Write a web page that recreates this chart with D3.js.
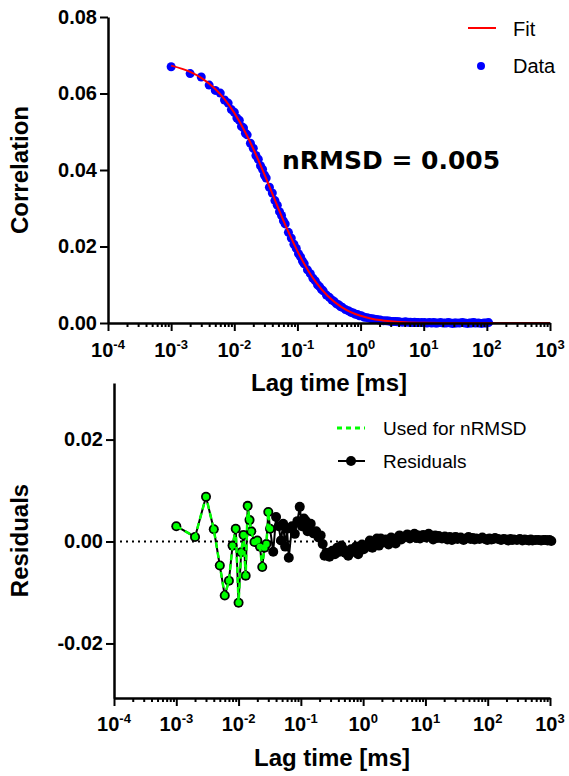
<!DOCTYPE html>
<html>
<head>
<meta charset="utf-8">
<script src="https://cdn.jsdelivr.net/npm/d3@7"></script>
<style>
  body { margin: 0; background: #fff; }
  svg { display: block; }
</style>
</head>
<body>
<svg width="569" height="776"></svg>
<script>
// correlator channel lag times, microseconds
var lagTimes = [
  1, 2, 3, 4, 5, 6, 7, 8, 9, 10, 11, 12, 13, 14, 15, 16,
  18, 20, 22, 24, 26, 28, 30, 32,
  36, 40, 44, 48, 52, 56, 60, 64,
  72, 80, 88, 96, 104, 112, 120, 128,
  144, 160, 176, 192, 208, 224, 240, 256,
  288, 320, 352, 384, 416, 448, 480, 512,
  576, 640, 704, 768, 832, 896, 960, 1024,
  1152, 1280, 1408, 1536, 1664, 1792, 1920, 2048,
  2304, 2560, 2816, 3072, 3328, 3584, 3840, 4096,
  4608, 5120, 5632, 6144, 6656, 7168, 7680, 8192,
  9216, 10240, 11264, 12288, 13312, 14336, 15360, 16384,
  18432, 20480, 22528, 24576, 26624, 28672, 30720, 32768,
  36864, 40960, 45056, 49152, 53248, 57344, 61440, 65536,
  73728, 81920, 90112, 98304, 106496, 114688, 122880, 131072,
  147456, 163840, 180224, 196608, 212992, 229376, 245760, 262144,
  294912, 327680, 360448, 393216, 425984, 458752, 491520, 524288,
  589824, 655360, 720896, 786432, 851968, 917504, 983040, 1048576
];

// measured correlation (first channels of lagTimes)
var corrData = [
  0.0670, 0.0652, 0.0643, 0.0622, 0.0608, 0.0601, 0.0583, 0.0575, 0.0558, 0.0551, 0.0536, 0.0530, 0.0514, 0.0510, 0.0496, 0.0492,
  0.0470, 0.0457, 0.0438, 0.0428, 0.0411, 0.0402, 0.0387, 0.0379,
  0.0355, 0.0340, 0.0320, 0.0308, 0.0291, 0.0281, 0.0267, 0.0259,
  0.0237, 0.0222, 0.0206, 0.0195, 0.0181, 0.0173, 0.0162, 0.0155,
  0.0139, 0.0129, 0.0117, 0.0110, 0.0100, 0.0095, 0.0088, 0.0084,
  0.0073, 0.0067, 0.0060, 0.0056, 0.0050, 0.0048, 0.0043, 0.0041,
  0.0035, 0.0032, 0.0028, 0.0026, 0.0023, 0.0022, 0.0019, 0.0019,
  0.0015, 0.0014, 0.0012, 0.0011, 0.0010, 0.0009, 0.0008, 0.0008,
  0.0006, 0.0006, 0.0005, 0.0004, 0.0004, 0.0004, 0.0003, 0.0003,
  0.0002, 0.0003, 0.0002, 0.0002, 0.0001, 0.0002, 0.0001, 0.0001,
  0.0001, 0.0001, 0.0000, 0.0001, 0.0000, 0.0001, 0.0000, 0.0000,
  0.0001, 0.0000, 0.0000, 0.0001, 0.0000, -0.0001, 0.0000, 0.0000,
  0.0000, 0.0001, 0.0000, -0.0001, 0.0000, 0.0000, 0.0001, 0.0000,
  0.0000, -0.0001, 0.0000, 0.0000, 0.0001
];

// fit curve, lag in ms
var fitLags = [0.001, 0.002, 0.003, 0.005, 0.007, 0.01, 0.015, 0.02, 0.03, 0.04, 0.05, 0.07,
  0.1, 0.15, 0.2, 0.3, 0.5, 0.7, 1, 1.5, 2, 3, 5, 10, 20, 50, 100, 1000];
var fitValues = [0.06728, 0.06565, 0.06409, 0.06118, 0.05852, 0.05493, 0.04981, 0.04555, 0.03885, 0.03383, 0.02993, 0.02426,
  0.01880, 0.01355, 0.01050, 0.00712, 0.00417, 0.00286, 0.00188, 0.00113, 0.00078, 0.00045, 0.00022, 0.00008, 0.00003, 0.00001, 0, 0];

// residuals over all lagTimes
var residuals = [
  0.0030, 0.0009, 0.0088, 0.0024, -0.0047, -0.0106, -0.0077, -0.0008, 0.0025, -0.0120, -0.0021, 0.0013, -0.0067, 0.0070, 0.0042, 0.0020,
  -0.0001, 0.0002, -0.0010, -0.0050, -0.0012, -0.0005, 0.0058, 0.0025,
  -0.0020, 0.0048, 0.0030, 0.0002, 0.0035, -0.0010, 0.0025, -0.0032,
  0.0030, 0.0015, 0.0040, 0.0068, 0.0030, 0.0045, 0.0040, 0.0020,
  0.0035, 0.0016, 0.0020, 0.0008, 0.0012, -0.0005, -0.0028, -0.0022,
  -0.0030, -0.0018, -0.0025, -0.0012, -0.0020, -0.0008, -0.0015, -0.0022,
  -0.0028, -0.0015, -0.0020, -0.0010, -0.0025, -0.0012, -0.0006, -0.0015,
  -0.0010, 0.0002, -0.0012, -0.0004, 0.0006, -0.0008, 0.0006, -0.0002,
  0.0004, -0.0006, 0.0008, 0.0002, -0.0004, 0.0008, 0.0012, 0.0004,
  0.0009, 0.0014, 0.0006, 0.0011, 0.0015, 0.0007, 0.0012, 0.0006,
  0.0013, 0.0008, 0.0015, 0.0010, 0.0004, 0.0012, 0.0007, 0.0011,
  0.0006, 0.0010, 0.0004, 0.0009, 0.0003, 0.0008, 0.0009, 0.0005,
  0.0008, 0.0003, 0.0006, 0.0009, 0.0005, 0.0007, 0.0004, 0.0006,
  0.0005, 0.0008, 0.0005, 0.0003, 0.0006, 0.0004, 0.0005, 0.0007,
  0.0005, 0.0003, 0.0005, 0.0004, 0.0002, 0.0005, 0.0003, 0.0004,
  0.0003, 0.0005, 0.0002, 0.0004, 0.0003, 0.0002, 0.0004, 0.0002,
  0.0003, 0.0003, 0.0002, 0.0003, 0.0003, 0.0002, 0.0003, 0.0001
];
var nrmsdChannels = 24;   // first channels used for nRMSD

var decadeExps = [-4, -3, -2, -1, 0, 1, 2, 3];
var corrTicks = [0, 0.02, 0.04, 0.06, 0.08];
var resTicks = [-0.02, 0, 0.02];
var nrmsdText = "nRMSD = 0.005";

var FONT = "'Liberation Sans', Arial, sans-serif";

var svg = d3.select("svg");

var points = corrData.map(function(v, i) { return [lagTimes[i] / 1000, v]; });
var fitPts = fitLags.map(function(t, i) { return [t, fitValues[i]]; });
var resPts = residuals.map(function(v, i) { return [lagTimes[i] / 1000, v]; });

var xTop = d3.scaleLog().domain([1e-4, 1e3]).range([108, 550]);
var yTop = d3.scaleLinear().domain([0, 0.08]).range([323, 17]);
var xBot = d3.scaleLog().domain([1e-4, 1e3]).range([114, 550]);
var yBot = d3.scaleLinear().domain([-0.0307, 0.0311]).range([698, 383]);

var majors = decadeExps.map(function(e) { return Math.pow(10, e); });
var minors = [];
majors.slice(0, -1).forEach(function(m) {
  for (var k = 2; k <= 9; k++) minors.push(m * k);
});

function styleAxis(g) {
  g.select(".domain").attr("stroke", "#000").attr("stroke-width", 2.5);
  g.selectAll(".tick line").attr("stroke", "#000").attr("stroke-width", 2);
  g.selectAll(".tick text")
    .attr("font-family", FONT).attr("font-weight", "bold")
    .attr("font-size", 20).attr("fill", "#000");
}

function drawXAxis(x, y0, labelY, titleY) {
  var gMin = svg.append("g").attr("transform", "translate(0," + y0 + ")")
    .call(d3.axisBottom(x).tickValues(minors).tickSize(4).tickFormat(""));
  gMin.select(".domain").remove();
  gMin.selectAll(".tick line").attr("stroke", "#000").attr("stroke-width", 2);

  var g = svg.append("g").attr("transform", "translate(0," + y0 + ")")
    .call(d3.axisBottom(x).tickValues(majors).tickSize(8).tickSizeOuter(0).tickFormat(""));
  styleAxis(g);

  svg.append("g").selectAll("text").data(decadeExps).enter().append("text")
    .attr("x", function(d) { return x(Math.pow(10, d)); })
    .attr("y", labelY)
    .attr("text-anchor", "middle")
    .attr("font-family", FONT).attr("font-weight", "bold").attr("font-size", 20)
    .each(function(d) {
      var t = d3.select(this);
      t.append("tspan").text("10");
      t.append("tspan").attr("dy", -8).attr("font-size", 13).text(d);
    });

  svg.append("text")
    .attr("x", (x.range()[0] + x.range()[1]) / 2).attr("y", titleY)
    .attr("text-anchor", "middle")
    .attr("font-family", FONT).attr("font-weight", "bold").attr("font-size", 24)
    .text("Lag time [ms]");
}

function drawYAxis(x0, y, ticks, title) {
  var g = svg.append("g").attr("transform", "translate(" + x0 + ",0)")
    .call(d3.axisLeft(y).tickValues(ticks).tickSize(8).tickSizeOuter(0).tickPadding(3)
      .tickFormat(function(d) { return d.toFixed(2); }));
  styleAxis(g);
  var cy = (y.range()[0] + y.range()[1]) / 2;
  svg.append("text")
    .attr("transform", "translate(28," + cy + ") rotate(-90)")
    .attr("text-anchor", "middle")
    .attr("font-family", FONT).attr("font-weight", "bold").attr("font-size", 24)
    .text(title);
}

// ---------- top: correlation ----------
svg.append("g").selectAll("circle").data(points).enter().append("circle")
  .attr("cx", function(d) { return xTop(d[0]); })
  .attr("cy", function(d) { return yTop(d[1]); })
  .attr("r", 4.5)
  .attr("fill", "#0000ff");

svg.append("path").datum(fitPts)
  .attr("fill", "none").attr("stroke", "#ff0000").attr("stroke-width", 2)
  .attr("d", d3.line()
    .x(function(d) { return xTop(d[0]); })
    .y(function(d) { return yTop(d[1]); })
    .curve(d3.curveMonotoneX));

drawYAxis(108, yTop, corrTicks, "Correlation");
drawXAxis(xTop, 323, 357, 391);

svg.append("text").attr("x", 282).attr("y", 169)
  .attr("font-family", "'DejaVu Sans', Verdana, sans-serif").attr("font-weight", "bold")
  .attr("font-size", 25).text(nrmsdText);

// legend top
svg.append("line").attr("x1", 468).attr("x2", 496).attr("y1", 28).attr("y2", 28)
  .attr("stroke", "#ff0000").attr("stroke-width", 2);
svg.append("circle").attr("cx", 481).attr("cy", 66).attr("r", 4).attr("fill", "#0000ff");
svg.append("text").attr("x", 513).attr("y", 36)
  .attr("font-family", FONT).attr("font-size", 20).text("Fit");
svg.append("text").attr("x", 513).attr("y", 73)
  .attr("font-family", FONT).attr("font-size", 20).text("Data");

// ---------- bottom: residuals ----------
svg.append("line")
  .attr("x1", xBot.range()[0] + 6).attr("x2", xBot.range()[1])
  .attr("y1", yBot(0)).attr("y2", yBot(0))
  .attr("stroke", "#000").attr("stroke-width", 2).attr("stroke-dasharray", "2,4");

var resLine = d3.line()
  .x(function(d) { return xBot(d[0]); })
  .y(function(d) { return yBot(d[1]); });

svg.append("path").datum(resPts)
  .attr("fill", "none").attr("stroke", "#000").attr("stroke-width", 2)
  .attr("d", resLine);
svg.append("g").selectAll("circle").data(resPts).enter().append("circle")
  .attr("cx", function(d) { return xBot(d[0]); })
  .attr("cy", function(d) { return yBot(d[1]); })
  .attr("r", 5).attr("fill", "#000");

var used = resPts.slice(0, nrmsdChannels);
svg.append("path").datum(used)
  .attr("fill", "none").attr("stroke", "#00ff00").attr("stroke-width", 2.5)
  .attr("stroke-dasharray", "6,4")
  .attr("d", resLine);
svg.append("g").selectAll("circle").data(used).enter().append("circle")
  .attr("cx", function(d) { return xBot(d[0]); })
  .attr("cy", function(d) { return yBot(d[1]); })
  .attr("r", 3.2).attr("fill", "#00ff00");

drawYAxis(114, yBot, resTicks, "Residuals");
drawXAxis(xBot, 698, 731, 766);

// legend bottom
svg.append("line").attr("x1", 337).attr("x2", 365).attr("y1", 428).attr("y2", 428)
  .attr("stroke", "#00ff00").attr("stroke-width", 3).attr("stroke-dasharray", "5,4");
svg.append("line").attr("x1", 338).attr("x2", 365).attr("y1", 461).attr("y2", 461)
  .attr("stroke", "#000").attr("stroke-width", 2);
svg.append("circle").attr("cx", 351).attr("cy", 461).attr("r", 5).attr("fill", "#000");
svg.append("text").attr("x", 383).attr("y", 435)
  .attr("font-family", FONT).attr("font-size", 19).text("Used for nRMSD");
svg.append("text").attr("x", 383).attr("y", 468)
  .attr("font-family", FONT).attr("font-size", 19).text("Residuals");
</script>
</body>
</html>
